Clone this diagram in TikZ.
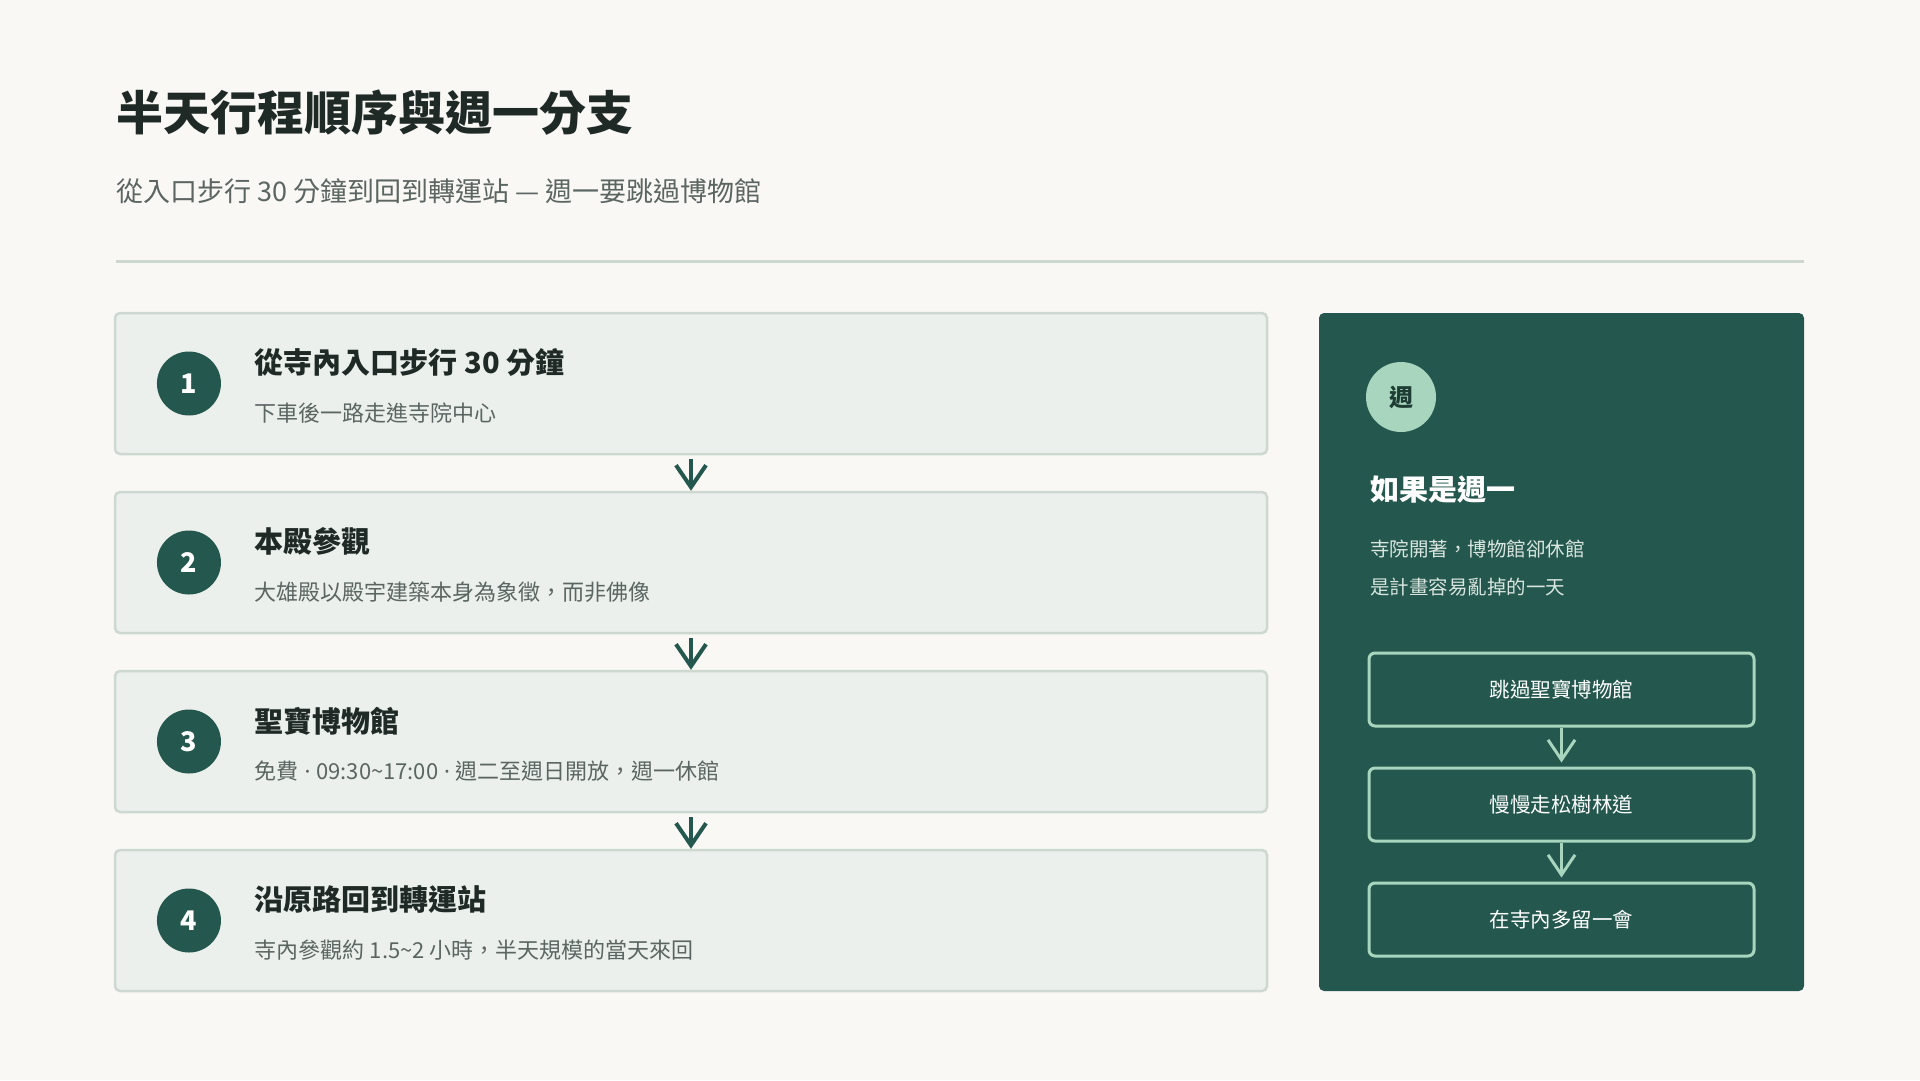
\documentclass[tikz,border=0pt]{standalone}
\usepackage{fontspec}
\setmainfont{Noto Sans CJK TC}
\newfontfamily\latinfont{Noto Sans}
\usetikzlibrary{positioning,arrows.meta}
\definecolor{bgpaper}{HTML}{F9F8F4}
\definecolor{pine}{HTML}{24574D}
\definecolor{mint}{HTML}{A8D5BE}
\definecolor{cardfill}{HTML}{EBF0EC}
\definecolor{cardline}{HTML}{CCD8D0}
\definecolor{inkdark}{HTML}{1F2A26}
\definecolor{inkgray}{HTML}{5B6561}
\definecolor{panelink}{HTML}{D9E6DF}
\definecolor{badgeink}{HTML}{1E3C34}
\newcommand{\middot}{{\latinfont\ ·\ }}
\tikzset{
  card/.style={draw=cardline, line width=2.5pt, fill=cardfill, rounded corners=5pt,
    minimum width=1152pt, minimum height=141pt, inner sep=0pt},
  numdot/.style={circle, fill=pine, minimum size=64pt, inner sep=0pt, text=white,
    font=\bfseries\fontsize{27}{27}\selectfont},
  cardtitle/.style={anchor=west, inner sep=0pt, text=inkdark, font=\bfseries\fontsize{29}{29}\selectfont},
  cardnote/.style={anchor=west, inner sep=0pt, text=inkgray, font=\fontsize{22}{22}\selectfont},
  flow/.style={draw=pine, line width=4pt, shorten <=4pt, -{Straight Barb[length=22pt,width=30pt]}},
  branch/.style={draw=mint, line width=3pt, rounded corners=6pt, minimum width=385pt,
    minimum height=73pt, inner sep=0pt, text=white, font=\fontsize{20.5}{20.5}\selectfont},
  branchflow/.style={draw=mint, line width=3pt, shorten >=4pt, -{Straight Barb[length=20pt,width=27pt]}},
}
\begin{document}
\begin{tikzpicture}[x=1pt,y=-1pt]
  \fill[bgpaper] (0,0) rectangle (1920,1080);
  \useasboundingbox (0,0) rectangle (1920,1080);
  % heading
  \node[anchor=west, inner sep=0pt, text=inkdark, font=\bfseries\fontsize{47}{47}\selectfont] (title) at (116,113) {半天行程順序與週一分支};
  \node[anchor=west, inner sep=0pt, text=inkgray, font=\fontsize{27}{27}\selectfont] (subtitle) at (116,191) {從入口步行 30 分鐘到回到轉運站 — 週一要跳過博物館};
  \draw[cardline, line width=3pt] (116,261) -- (1804,261);
  % steps
  \node[card] (card1) at (691,383.5) {};
  \node[card, below=35.5pt of card1] (card2) {};
  \node[card, below=35.5pt of card2] (card3) {};
  \node[card, below=35.5pt of card3] (card4) {};
  \node[numdot, right=43pt of card1.west] (num1) {1};
  \node[numdot, right=43pt of card2.west] (num2) {2};
  \node[numdot, right=43pt of card3.west] (num3) {3};
  \node[numdot, right=43pt of card4.west] (num4) {4};
  \node[cardtitle] (head1) at ([shift={(141,51)}]card1.north west) {從寺內入口步行 30 分鐘};
  \node[cardnote] (note1) at ([shift={(141,101)}]card1.north west) {下車後一路走進寺院中心};
  \node[cardtitle] (head2) at ([shift={(141,51)}]card2.north west) {本殿參觀};
  \node[cardnote] (note2) at ([shift={(141,101)}]card2.north west) {大雄殿以殿宇建築本身為象徵，而非佛像};
  \node[cardtitle] (head3) at ([shift={(141,51)}]card3.north west) {聖寶博物館};
  \node[cardnote] (note3) at ([shift={(141,101)}]card3.north west) {免費\middot 09:30\textasciitilde 17:00\middot 週二至週日開放，週一休館};
  \node[cardtitle] (head4) at ([shift={(141,51)}]card4.north west) {沿原路回到轉運站};
  \node[cardnote] (note4) at ([shift={(141,101)}]card4.north west) {寺內參觀約 1.5\textasciitilde 2 小時，半天規模的當天來回};
  \draw[flow] (card1.south) -- (card2.north);
  \draw[flow] (card2.south) -- (card3.north);
  \draw[flow] (card3.south) -- (card4.north);
  % monday branch
  \node[fill=pine, rounded corners=5pt, minimum width=485pt, minimum height=678pt, inner sep=0pt] (panel) at (1561.5,652) {};
  \node[circle, fill=mint, minimum size=70pt, inner sep=0pt, text=badgeink, font=\bfseries\fontsize{24}{24}\selectfont] (badge) at (1401,397) {週};
  \node[anchor=west, inner sep=0pt, text=white, font=\bfseries\fontsize{29}{29}\selectfont] (monday) at (1370,490) {如果是週一};
  \node[anchor=west, inner sep=0pt, text=panelink, font=\fontsize{19.5}{19.5}\selectfont] (why1) at (1370,549) {寺院開著，博物館卻休館};
  \node[anchor=west, inner sep=0pt, text=panelink, font=\fontsize{19.5}{19.5}\selectfont] (why2) at (1370,587) {是計畫容易亂掉的一天};
  \node[branch] (br1) at (1561.5,689.5) {跳過聖寶博物館};
  \node[branch, below=39pt of br1] (br2) {慢慢走松樹林道};
  \node[branch, below=39pt of br2] (br3) {在寺內多留一會};
  \draw[branchflow] (br1.south) -- (br2.north);
  \draw[branchflow] (br2.south) -- (br3.north);
\end{tikzpicture}
\end{document}
